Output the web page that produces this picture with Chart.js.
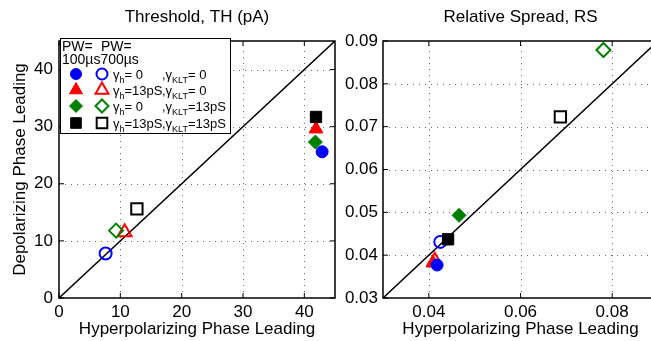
<!DOCTYPE html>
<html lang="en">
<head>
<meta charset="UTF-8">
<title>Phase leading: threshold and relative spread</title>
<script src="https://cdn.jsdelivr.net/npm/chart.js"></script>
<style>
    html, body { margin: 0; padding: 0; background: #fff; overflow: hidden; }
    body { width: 651px; height: 341px; position: relative; }
    .panel { position: absolute; top: 0; height: 341px; }
    #thPanel { left: 0; width: 345px; }
    #rsPanel { left: 340px; width: 330px; }
</style>
</head>
<body>
<div class="panel" id="thPanel"><canvas id="thChart"></canvas></div>
<div class="panel" id="rsPanel"><canvas id="rsChart"></canvas></div>
<script>
// series: PW=100us (filled) / PW=700us (open) for each conductance pair
const seriesLabels = [
    'PW=100us, gh=0, gKLT=0', 'PW=700us, gh=0, gKLT=0',
    'PW=100us, gh=13pS, gKLT=0', 'PW=700us, gh=13pS, gKLT=0',
    'PW=100us, gh=0, gKLT=13pS', 'PW=700us, gh=0, gKLT=13pS',
    'PW=100us, gh=13pS, gKLT=13pS', 'PW=700us, gh=13pS, gKLT=13pS'
];
// threshold (pA)
const thHyper = [42.9, 7.6, 41.9, 10.7, 41.8, 9.3, 41.9, 12.7];
const thDepol = [25.6, 7.8, 29.6, 11.5, 27.3, 11.8, 31.7, 15.6];
// relative spread
const rsHyper = [0.0418, 0.0425, 0.0409, 0.0413, 0.0466, 0.0781, 0.0442, 0.0687];
const rsDepol = [0.0377, 0.0431, 0.0382, 0.0387, 0.0493, 0.0879, 0.0437, 0.0723];

const thRange = [0, 45];
const rsRange = [0.03, 0.09];
const thTicks = [0, 10, 20, 30, 40];
const rsXTicks = [0.04, 0.06, 0.08];
const rsYTicks = [0.03, 0.04, 0.05, 0.06, 0.07, 0.08, 0.09];

// legend text
const gammaH = ['= 0', '=13pS', '= 0', '=13pS'];
const gammaKLT = ['= 0', '= 0', '=13pS', '=13pS'];

// marker styles
const markerShape = ['circle', 'circle', 'triangle', 'triangle', 'rectRot', 'rectRot', 'rect', 'rect'];
const markerColor = ['#0000ff', '#0000ff', '#ff0000', '#ff0000', '#008000', '#008000', '#000000', '#000000'];
const markerFilled = [true, false, true, false, true, false, true, false];
const shapeRadius = { circle: 6, triangle: 8, rectRot: 7, rect: 8 };
const drawOrder = [6, 7, 4, 5, 0, 1, 2, 3]; // first = on top

const FONT = '"Liberation Sans", Arial, Helvetica, sans-serif';
Chart.defaults.font.family = FONT;
Chart.defaults.font.size = 17;
Chart.defaults.color = '#000';

function makeDatasets(xs, ys, range) {
    var sets = seriesLabels.map(function (label, i) {
        return {
            label: label,
            data: [{ x: xs[i], y: ys[i] }],
            pointStyle: markerShape[i],
            pointRadius: shapeRadius[markerShape[i]],
            pointHoverRadius: shapeRadius[markerShape[i]],
            backgroundColor: markerFilled[i] ? markerColor[i] : 'rgba(255,255,255,0)',
            borderColor: markerColor[i],
            pointBorderWidth: markerFilled[i] ? 1 : 2,
            order: drawOrder.indexOf(i),
            clip: false
        };
    });
    sets.push({
        label: 'identity',
        data: [{ x: range[0], y: range[0] }, { x: range[1], y: range[1] }],
        showLine: true,
        pointRadius: 0,
        borderColor: '#000',
        borderWidth: 1.5,
        order: 100
    });
    return sets;
}

function axis(pos, range, tickVals, fmt, size, pad, title, titlePad) {
    return {
        type: 'linear',
        position: pos,
        min: range[0],
        max: range[1],
        afterBuildTicks: function (s) { s.ticks = tickVals.map(function (v) { return { value: v }; }); },
        afterFit: function (s) { if (pos === 'bottom') s.height = size; else s.width = size; },
        grid: { display: false, drawTicks: false },
        border: { display: false },
        ticks: { padding: pad, autoSkip: false, maxRotation: 0, callback: fmt },
        title: title ? { display: true, text: title, padding: titlePad } : { display: false }
    };
}

// dotted grid, frame with inward ticks, panel title
const frame = {
    id: 'frame',
    beforeDatasetsDraw: function (chart) {
        var ctx = chart.ctx, a = chart.chartArea, x = chart.scales.x, y = chart.scales.y;
        ctx.save();
        ctx.strokeStyle = '#6a6a6a';
        ctx.lineWidth = 1;
        ctx.setLineDash([1, 5]);
        ctx.beginPath();
        x.ticks.forEach(function (t) {
            var px = Math.round(x.getPixelForValue(t.value)) + 0.5;
            if (px - a.left < 2 || a.right - px < 2) return;
            ctx.moveTo(px, a.bottom); ctx.lineTo(px, a.top);
        });
        y.ticks.forEach(function (t) {
            var py = Math.round(y.getPixelForValue(t.value)) + 0.5;
            if (py - a.top < 2 || a.bottom - py < 2) return;
            ctx.moveTo(a.left, py); ctx.lineTo(a.right, py);
        });
        ctx.stroke();
        ctx.restore();
    },
    afterDatasetsDraw: function (chart, args, opts) {
        var ctx = chart.ctx, a = chart.chartArea, x = chart.scales.x, y = chart.scales.y;
        ctx.save();
        ctx.strokeStyle = '#000';
        ctx.lineWidth = 1;
        ctx.beginPath();
        x.ticks.forEach(function (t) {
            var px = x.getPixelForValue(t.value);
            ctx.moveTo(px, a.bottom); ctx.lineTo(px, a.bottom - 5);
            ctx.moveTo(px, a.top); ctx.lineTo(px, a.top + 5);
        });
        y.ticks.forEach(function (t) {
            var py = y.getPixelForValue(t.value);
            ctx.moveTo(a.left, py); ctx.lineTo(a.left + 5, py);
            ctx.moveTo(a.right, py); ctx.lineTo(a.right - 5, py);
        });
        ctx.stroke();
        ctx.lineWidth = 1.5;
        ctx.strokeRect(a.left, a.top, a.right - a.left, a.bottom - a.top);
        ctx.fillStyle = '#000';
        ctx.font = '17px ' + FONT;
        ctx.textAlign = 'center';
        ctx.textBaseline = 'middle';
        ctx.fillText(opts.title, (a.left + a.right) / 2, 17);
        ctx.restore();
    }
};

function drawMarker(ctx, shape, color, filled, x, y) {
    ctx.fillStyle = filled ? color : '#fff';
    ctx.strokeStyle = color;
    var r = shapeRadius[shape] - 0.5;
    var bw = filled ? 1 : 2;
    ctx.lineWidth = bw;
    Chart.helpers.drawPoint(ctx, { pointStyle: shape, radius: r, borderWidth: bw, rotation: 0 }, x, y);
}

function drawRich(ctx, x, y, parts) {
    parts.forEach(function (p) {
        ctx.font = (p[1] ? '9px ' : '13px ') + FONT;
        ctx.fillText(p[0], x, y + (p[1] ? 4 : 0));
        x += ctx.measureText(p[0]).width;
    });
}

const legendBox = {
    id: 'legendBox',
    afterDraw: function (chart) {
        var ctx = chart.ctx;
        ctx.save();
        ctx.fillStyle = '#fff';
        ctx.fillRect(60, 38, 170, 95);
        ctx.strokeStyle = '#000';
        ctx.lineWidth = 1;
        ctx.strokeRect(60.5, 38.5, 170, 95);
        ctx.fillStyle = '#000';
        ctx.textAlign = 'left';
        ctx.textBaseline = 'alphabetic';
        ctx.font = '14px ' + FONT;
        ctx.fillText('PW=', 62, 51);
        ctx.fillText('PW=', 101, 51);
        ctx.fillText('100\u00b5s700\u00b5s', 62, 64);
        var rowY = [74, 90, 106, 123];
        rowY.forEach(function (ry, k) {
            drawMarker(ctx, markerShape[2 * k], markerColor[2 * k], true, 76, ry);
            drawMarker(ctx, markerShape[2 * k + 1], markerColor[2 * k + 1], false, 102, ry);
            ctx.fillStyle = '#000';
            drawRich(ctx, 113, ry + 5, [['\u03b3', false], ['h', true], [gammaH[k], false]]);
            drawRich(ctx, 162, ry + 5, [[',\u03b3', false], ['KLT', true], [gammaKLT[k], false]]);
        });
        ctx.restore();
    }
};

new Chart(document.getElementById('thChart'), {
    type: 'scatter',
    data: { datasets: makeDatasets(thHyper, thDepol, thRange) },
    options: {
        responsive: true,
        maintainAspectRatio: false,
        animation: false,
        layout: { padding: { top: 41, right: 8, left: 0, bottom: 0 } },
        plugins: { legend: { display: false }, tooltip: { enabled: false }, frame: { title: 'Threshold, TH (pA)' } },
        scales: {
            x: axis('bottom', thRange, thTicks, function (v) { return String(v); }, 43, 4,
                'Hyperpolarizing Phase Leading', { top: 0, bottom: 1 }),
            y: axis('left', thRange, thTicks, function (v) { return String(v); }, 59, 6,
                'Depolarizing Phase Leading', { top: 10, bottom: 0 })
        }
    },
    plugins: [frame, legendBox]
});

new Chart(document.getElementById('rsChart'), {
    type: 'scatter',
    data: { datasets: makeDatasets(rsHyper, rsDepol, rsRange) },
    options: {
        responsive: true,
        maintainAspectRatio: false,
        animation: false,
        layout: { padding: { top: 41, right: 12, left: 0, bottom: 0 } },
        plugins: { legend: { display: false }, tooltip: { enabled: false }, frame: { title: 'Relative Spread, RS' } },
        scales: {
            x: axis('bottom', rsRange, rsXTicks, function (v) { return v.toFixed(2); }, 43, 4,
                'Hyperpolarizing Phase Leading', { top: 0, bottom: 1 }),
            y: axis('left', rsRange, rsYTicks, function (v) { return v.toFixed(2); }, 43, 5, '', null)
        }
    },
    plugins: [frame]
});
</script>
</body>
</html>
